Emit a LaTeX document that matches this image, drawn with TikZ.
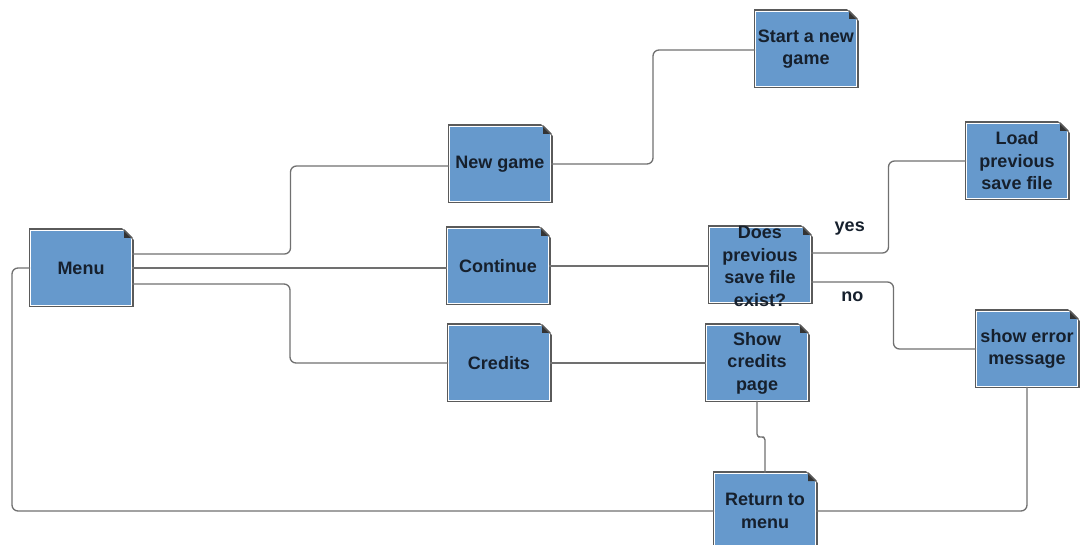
\documentclass[tikz,border=0pt]{standalone}
\usepackage{fontspec}
\setmainfont{Liberation Sans}
\usetikzlibrary{calc}

\definecolor{boxblue}{RGB}{102,153,204}
\definecolor{boxline}{RGB}{90,90,90}
\definecolor{wire}{RGB}{112,112,112}
\definecolor{ink}{RGB}{22,32,45}

\begin{document}
\begin{tikzpicture}[x=1pt,y=-1pt,
  note/.style={rectangle, minimum width=101pt, minimum height=75pt, inner sep=0pt,
    fill=boxblue, draw=white, line width=1pt,
    preaction={draw=boxline, line width=4pt},
    align=center, text=ink, font=\fontsize{18}{22.5}\selectfont\bfseries},
  link/.style={draw=wire, line width=1.3pt, rounded corners=6pt},
  tag/.style={text=ink, font=\fontsize{18}{22.5}\selectfont\bfseries}]
  \useasboundingbox (0,0) rectangle (1080,545);

  \node[note] (menu) at (81,268) {Menu};
  \node[note] (newgame) at (500,164) {New game};
  \node[note] (continue) at (498,266) {Continue};
  \node[note] (credits) at (499,363) {Credits};
  \node[note] (startnew) at (806,49) {Start a new\\game};
  \node[note] (saveexists) at (760,265) {};
  \node[tag, align=center] (saveexiststext) at ([yshift=-1.5pt]saveexists.center) {Does\\previous\\save file\\exist?};
  \node[note] (loadsave) at (1017,161) {Load\\previous\\save file};
  \node[note] (showerror) at (1027,349) {show error\\message};
  \node[note] (showcredits) at (757,363) {Show\\credits\\page};
  \node[note] (returnmenu) at (765,511) {Return to\\menu};

  % folded corners
  \foreach \n in {menu,newgame,continue,credits,startnew,saveexists,loadsave,showerror,showcredits,returnmenu} {
    \fill[white] ([xshift=-10pt,yshift=2.2pt]\n.north east) -- ([xshift=2.2pt,yshift=2.2pt]\n.north east)
      -- ([xshift=2.2pt,yshift=-10pt]\n.north east) -- cycle;
    \fill[black!80] ([xshift=-8pt]\n.north east) -- ([xshift=-8pt,yshift=-8pt]\n.north east)
      -- ([yshift=-8pt]\n.north east) -- cycle;
    \draw[boxline, line width=1.5pt, line cap=round] ([xshift=-8pt]\n.north east) -- ([yshift=-8pt]\n.north east);
  }

  % menu options
  \draw[link] ([yshift=14pt]menu.east) -| ($(menu.east)!.5!(newgame.west)$) |- ([yshift=-2pt]newgame.west);
  \draw[link] (menu.east) -- (menu.east -| continue.west);
  \draw[link] ([yshift=-16pt]menu.east) -| ($(menu.east)!.5!(credits.west)$) |- (credits.west);

  \draw[link] (newgame.east) -| ($(newgame.east)!.5!(startnew.west)$) |- ([yshift=-1pt]startnew.west);
  \draw[link] (continue.east) -- (continue.east -| saveexists.west);
  \draw[link] ([yshift=12pt]saveexists.east) -| node[tag, pos=.25, yshift=24pt] {yes}
    ($(saveexists.east)!.5!(loadsave.west)$) |- (loadsave.west);
  \draw[link] ([yshift=-17pt]saveexists.east) -| node[tag, pos=.25, yshift=-15pt] {no}
    ($(saveexists.east)!.5!(showerror.west)$) |- (showerror.west);
  \draw[link] (credits.east) -- (credits.east -| showcredits.west);

  % back to menu
  \draw[link, rounded corners=3pt] (showcredits.south) |- ($(showcredits.south)!.5!(returnmenu.north)$) -| (returnmenu.north);
  \draw[link] (showerror.south) |- (returnmenu.east);
  \draw[link] (returnmenu.west) -| ($(menu.west)+(-18pt,0)$) -- (menu.west);
\end{tikzpicture}
\end{document}
